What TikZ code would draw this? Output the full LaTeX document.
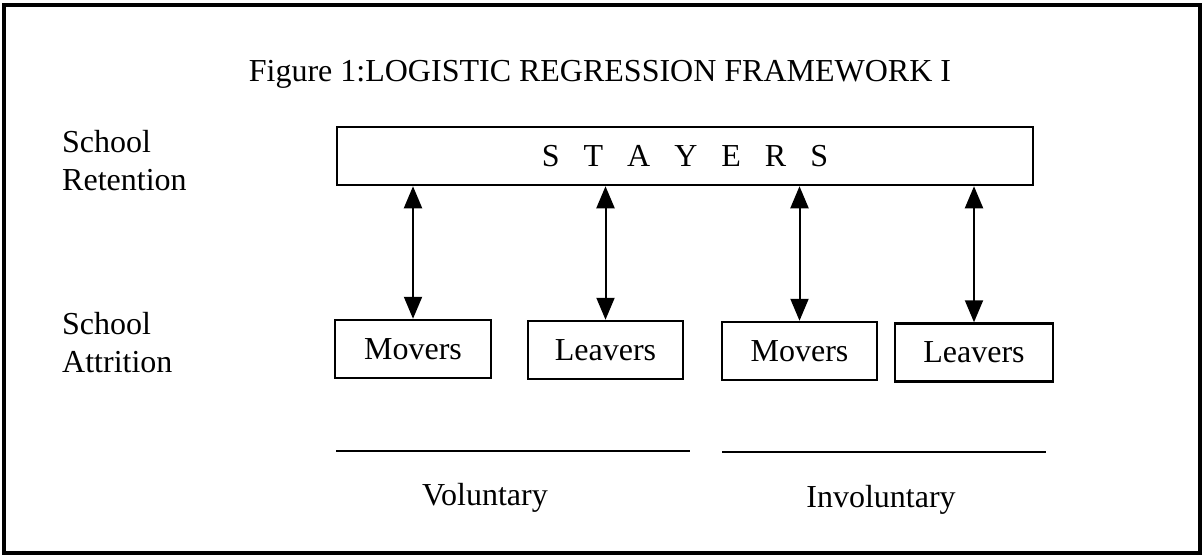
\documentclass[tikz,border=0pt]{standalone}
\usepackage{fontspec}
\setmainfont{Liberation Serif}
\usetikzlibrary{arrows.meta}
\tikzset{
  lbl/.style={font=\fontsize{32}{38}\selectfont, inner sep=0pt},
  box/.style={draw, line width=2.5pt, font=\fontsize{32}{38}\selectfont, minimum height=58pt, inner sep=0pt},
  link/.style={line width=2pt, {Triangle[length=22pt,width=18pt]}-{Triangle[length=22pt,width=18pt]}},
  rule/.style={line width=2.5pt}
}
\begin{document}
\begin{tikzpicture}[x=1pt,y=-1pt]
\useasboundingbox (0,0) rectangle (1204,559);
\draw[line width=3.5pt] (4,5) rectangle (1200,553);
\node[lbl, anchor=base] (title) at (600,82) {Figure 1:LOGISTIC REGRESSION FRAMEWORK I};
\node[box, minimum width=696pt] (stay) at (685,156) {S~~~T~~~A~~~Y~~~E~~~R~~~S};
\node[lbl, align=left, anchor=north west] (ret) at (62,130) {School\\Retention};
\node[lbl, align=left, anchor=north west] (att) at (62,312) {School\\Attrition};
\node[box, minimum width=156pt] (m1) at (413,349) {Movers};
\node[box, minimum width=155pt] (l1) at (605.5,350) {Leavers};
\node[box, minimum width=155pt] (m2) at (799.5,351) {Movers};
\node[box, minimum width=158pt] (l2) at (974,352.5) {Leavers};
\foreach \b in {m1,l1,m2,l2}
  \draw[link] (\b.north |- stay.south) -- (\b.north);
\coordinate (r1a) at (336,451);
\coordinate (r1b) at (690,451);
\coordinate (r2a) at (722,452);
\coordinate (r2b) at (1046,452);
\draw[rule] (r1a) -- (r1b);
\draw[rule] (r2a) -- (r2b);
\node[lbl] (vol) at (485,498) {Voluntary};
\node[lbl] (invol) at (881,500) {Involuntary};
\end{tikzpicture}
\end{document}
